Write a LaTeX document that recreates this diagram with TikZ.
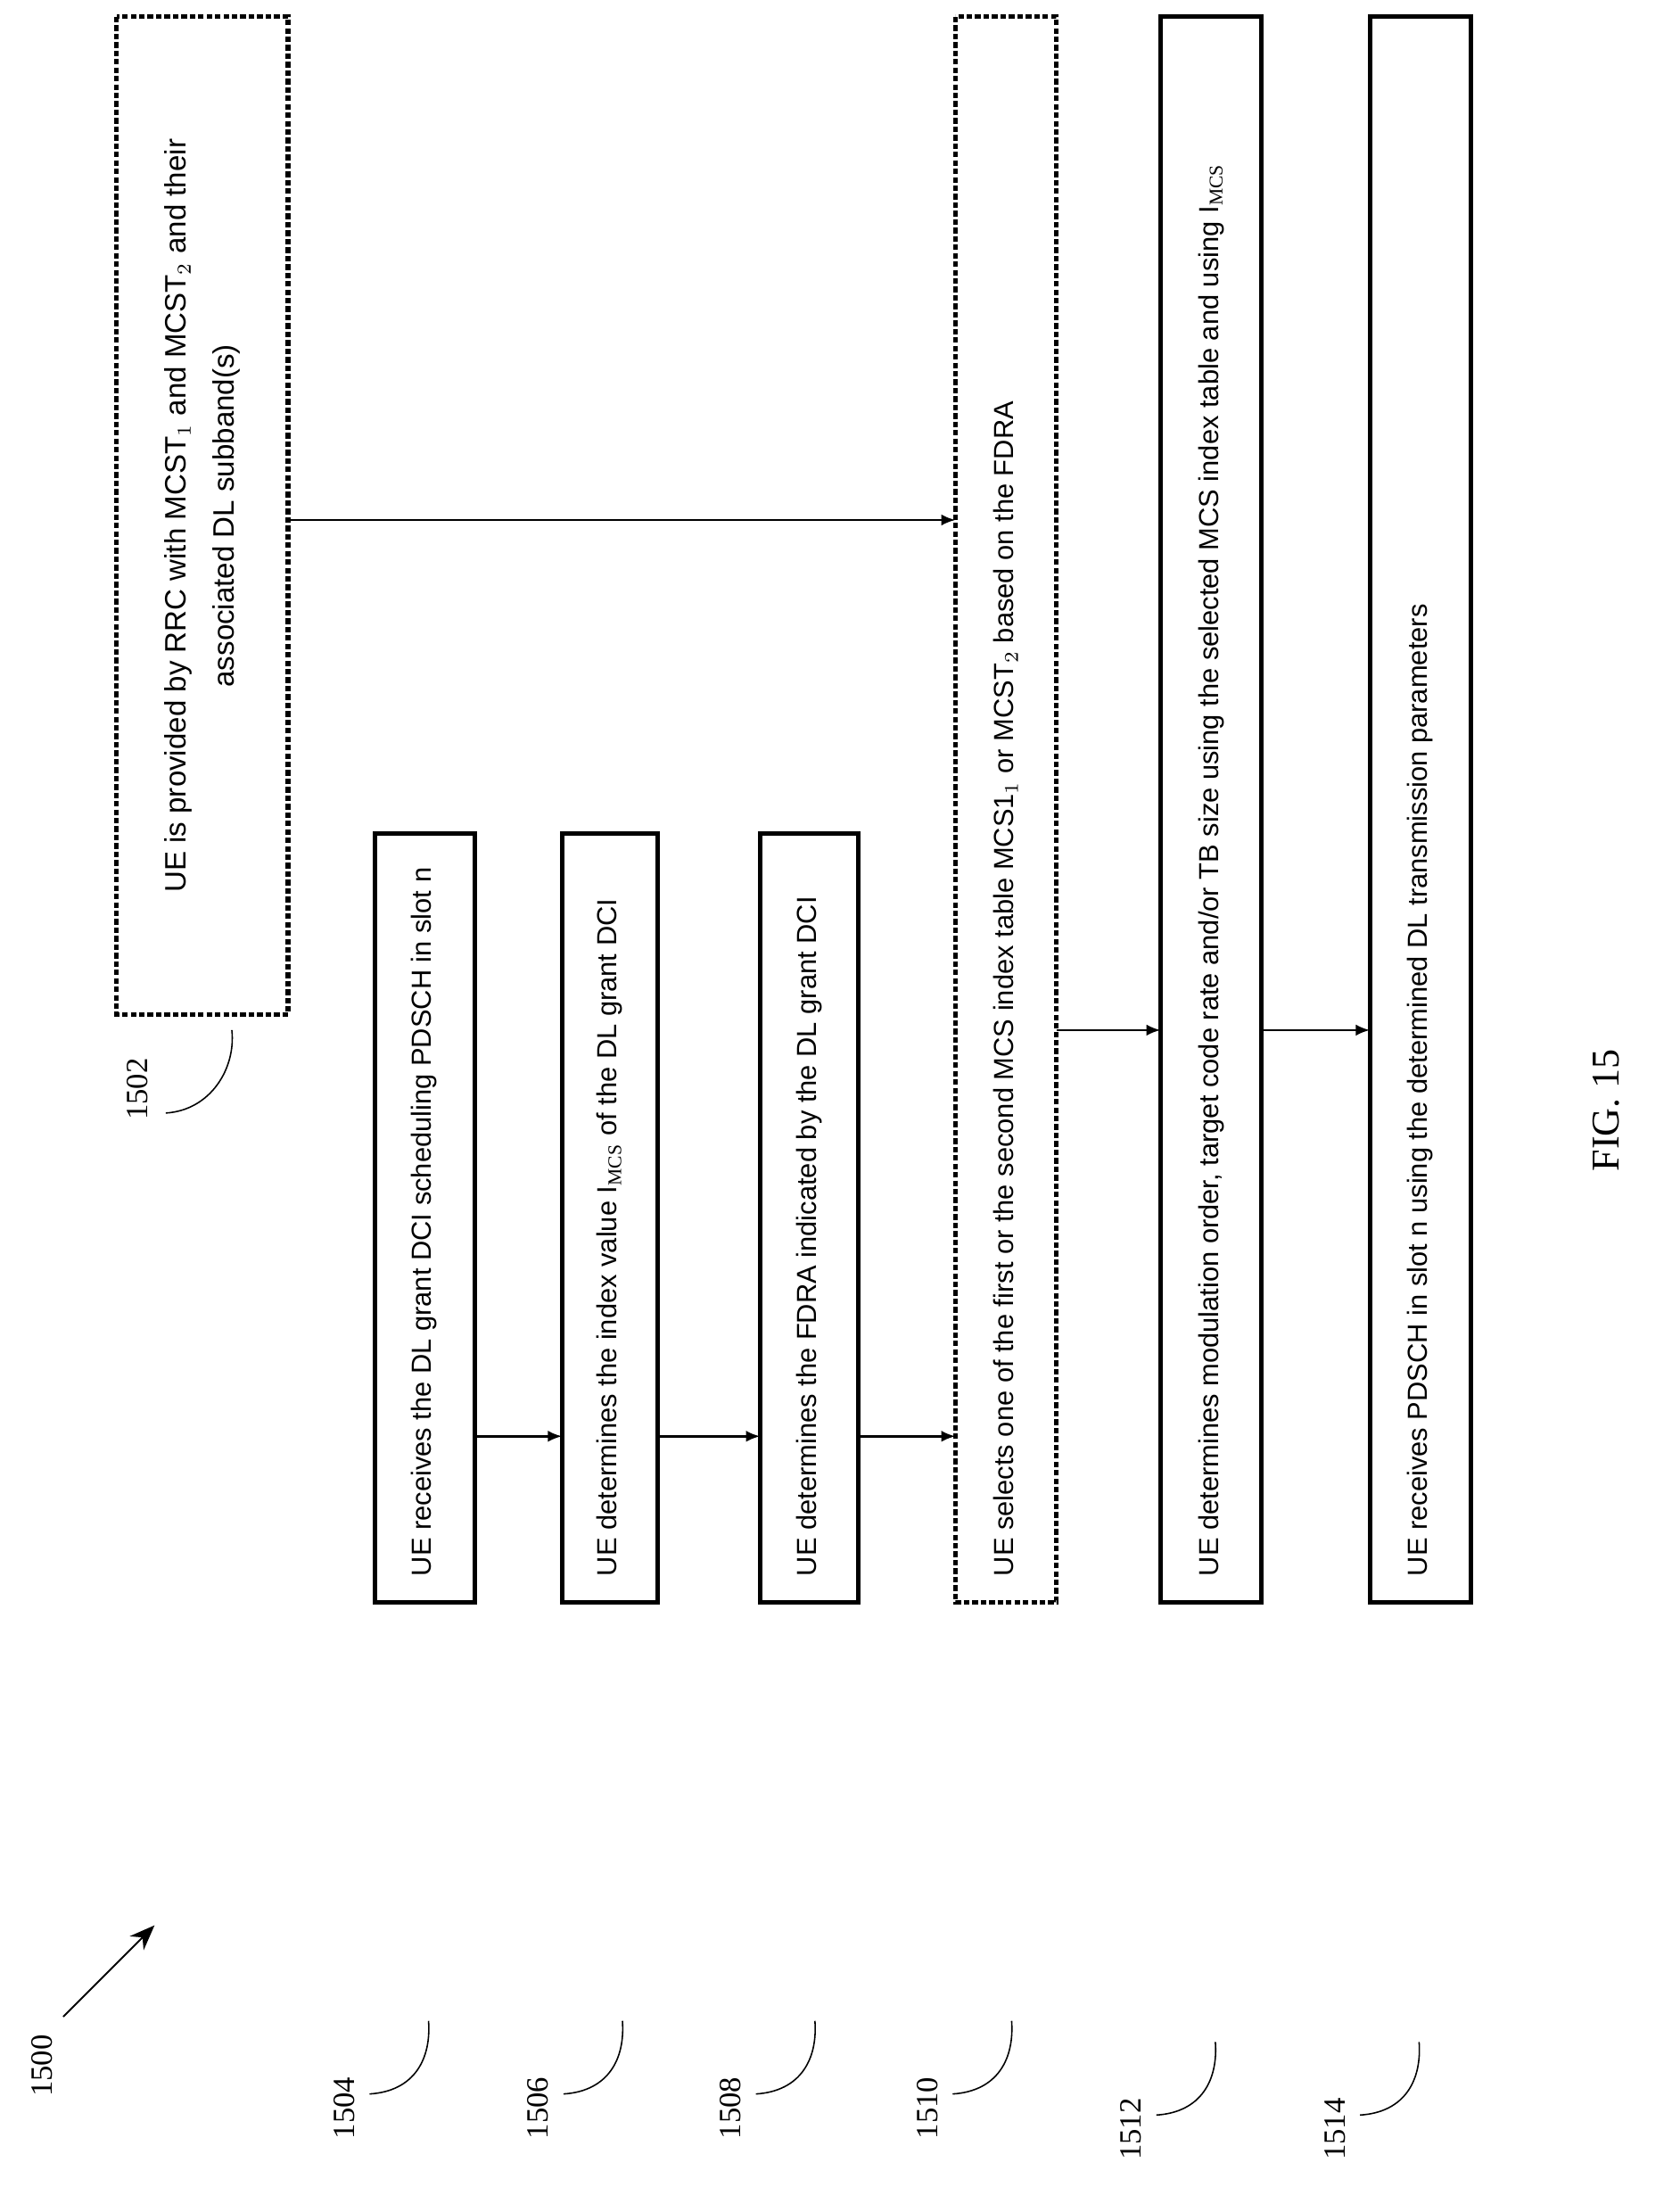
\documentclass[tikz,border=0pt]{standalone}
\usepackage{fontspec}
\setmainfont{Liberation Serif}
\newfontfamily\boxfont{Liberation Sans}
\usetikzlibrary{arrows.meta}
\begin{document}
\begin{tikzpicture}[x=0.5pt,y=-0.5pt,
 bx/.style={draw,line width=1.6pt},
 dbx/.style={draw,line width=1.6pt,dash pattern=on 2pt off 1pt},
 tx/.style={font=\boxfont\fontsize{9.8}{12}\selectfont,rotate=90,anchor=west,inner sep=0},
 lab/.style={font=\fontsize{11}{13}\selectfont,rotate=90},
 ar/.style={-{Latex[length=5pt,width=4pt]},line width=0.8pt},
 ld/.style={line width=0.5pt}]
\useasboundingbox (0,0) rectangle (1190,1574);
% boxes
\draw[dbx] (83,12) rectangle (205,722);
\draw[bx] (267,593) rectangle (338,1140);
\draw[bx] (400,593) rectangle (468,1140);
\draw[bx] (541,593) rectangle (611,1140);
\draw[dbx] (680,12) rectangle (752,1140);
\draw[bx] (826,12) rectangle (898,1140);
\draw[bx] (975,12) rectangle (1047,1140);
% texts
\node[font=\boxfont\fontsize{10.5}{17}\selectfont,rotate=90,align=center] (t1502) at (144,367) {UE is provided by RRC with MCST$_1$ and MCST$_2$ and their\\associated DL subband(s)};
\node[tx] (t1504) at (302,1122) {UE receives the DL grant DCI scheduling PDSCH in slot n};
\node[tx] (t1506) at (434,1122) {UE determines the index value I$_{\mathrm{MCS}}$ of the DL grant DCI};
\node[tx] (t1508) at (576,1122) {UE determines the FDRA indicated by the DL grant DCI};
\node[tx] (t1510) at (716,1122) {UE selects one of the first or the second MCS index table MCS1$_1$ or MCST$_2$ based on the FDRA};
\node[tx] (t1512) at (862,1122) {UE determines modulation order, target code rate and/or TB size using the selected MCS index table and using I$_{\mathrm{MCS}}$};
\node[tx] (t1514) at (1011,1122) {UE receives PDSCH in slot n using the determined DL transmission parameters};
% arrows
\coordinate (a1) at (205,370); \coordinate (a2) at (680,370);
\draw[ar] (a1) -- (a2);
\coordinate (b1) at (338,1022); \coordinate (b2) at (400,1022);
\draw[ar] (b1) -- (b2);
\coordinate (c1) at (468,1022); \coordinate (c2) at (541,1022);
\draw[ar] (c1) -- (c2);
\coordinate (d1) at (611,1022); \coordinate (d2) at (680,1022);
\draw[ar] (d1) -- (d2);
\coordinate (e1) at (752,733); \coordinate (e2) at (826,733);
\draw[ar] (e1) -- (e2);
\coordinate (f1) at (898,733); \coordinate (f2) at (975,733);
\draw[ar] (f1) -- (f2);
% labels
\node[lab] (l1500) at (30,1470) {1500};
\coordinate (p1) at (45,1435); \coordinate (p2) at (110,1370);
\draw[-{Stealth[length=9pt,width=7pt]},line width=0.6pt] (p1) -- (p2);
\node[lab] (l1502) at (98,775) {1502};
\draw[ld] (118,792) .. controls (150,790) and (168,760) .. (165,733);
\foreach \n/\x/\ya in {1504/245/1500,1506/383/1500,1508/520/1500,1510/660/1500,1512/805/1515,1514/950/1515}{
 \node[lab] (l\n) at (\x,\ya) {\n};
 \draw[ld] (\x+18,\ya-10) .. controls (\x+50,\ya-12) and (\x+62,\ya-35) .. (\x+60,\ya-62);
}
\node[font=\fontsize{14}{16}\selectfont,rotate=90] (fig) at (1143,790) {FIG. 15};
\end{tikzpicture}
\end{document}
